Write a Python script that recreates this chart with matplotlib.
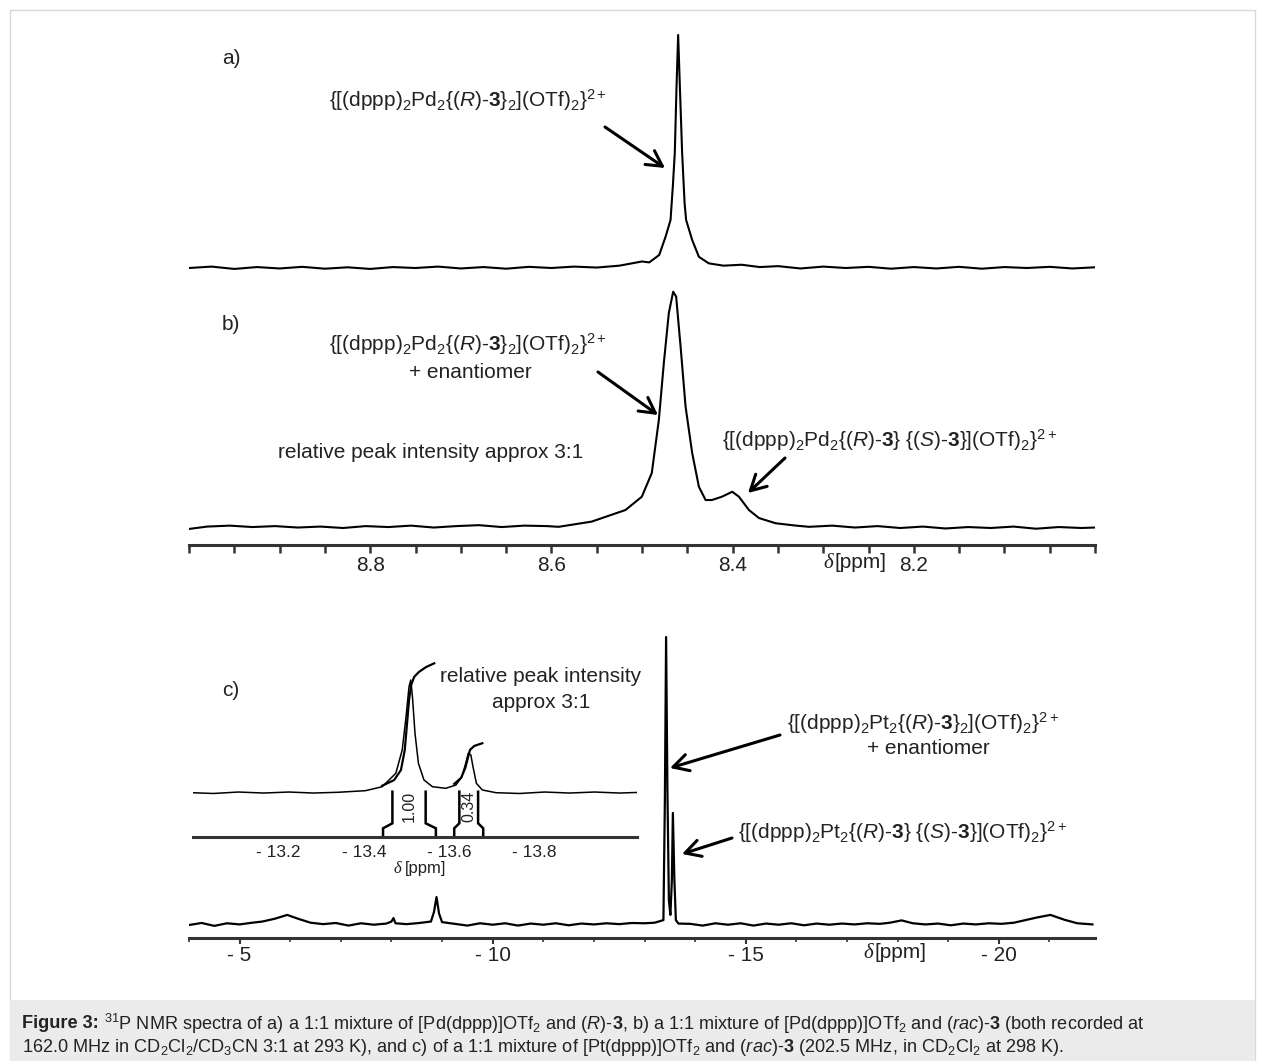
import matplotlib
matplotlib.use('Agg')
import matplotlib.pyplot as plt
from matplotlib.patches import Rectangle
import numpy as np

plt.rcParams['font.family'] = ['Liberation Sans', 'DejaVu Sans']
plt.rcParams['mathtext.fontset'] = 'custom'
plt.rcParams['mathtext.rm'] = 'Liberation Sans'
plt.rcParams['mathtext.it'] = 'Liberation Sans:italic'
plt.rcParams['mathtext.bf'] = 'Liberation Sans:bold'
plt.rcParams['mathtext.default'] = 'regular'

# ---- spectrum a) : Pd, (R)-3 ----
a_ppm = [9.000, 8.975, 8.950, 8.925, 8.900, 8.875, 8.850, 8.825, 8.800, 8.775,
         8.750, 8.725, 8.700, 8.675, 8.650, 8.625, 8.600, 8.575, 8.550, 8.525,
         8.500, 8.492, 8.481, 8.474, 8.4685, 8.466, 8.4638, 8.4619, 8.4601, 8.4582,
         8.4557, 8.453, 8.4513, 8.4446, 8.4372, 8.4263, 8.410, 8.390, 8.370, 8.350,
         8.325, 8.300, 8.275, 8.250, 8.225, 8.200, 8.175, 8.150, 8.125, 8.100,
         8.075, 8.050, 8.025, 8.000]
a_int = [0.000, 0.006, -0.004, 0.004, -0.002, 0.005, -0.003, 0.003, -0.004, 0.004,
         0.000, 0.006, -0.002, 0.004, -0.003, 0.005, 0.000, 0.006, 0.002, 0.010,
         0.028, 0.024, 0.056, 0.134, 0.206, 0.349, 0.494, 0.778, 1.000, 0.778,
         0.494, 0.279, 0.206, 0.120, 0.048, 0.020, 0.010, 0.014, 0.004, 0.008,
         -0.002, 0.006, 0.000, 0.005, -0.003, 0.004, -0.002, 0.005, -0.003, 0.004,
         0.000, 0.005, -0.002, 0.003]

# ---- spectrum b) : Pd, rac-3 ----
b_ppm = [9.000, 8.980, 8.955, 8.930, 8.905, 8.880, 8.855, 8.830, 8.805, 8.780,
         8.755, 8.730, 8.705, 8.680, 8.655, 8.630, 8.605, 8.592, 8.5555, 8.5182,
         8.5002, 8.4892, 8.4814, 8.4759, 8.4704, 8.4656, 8.4623, 8.4574, 8.4519, 8.4446,
         8.4372, 8.4298, 8.4229, 8.4118, 8.4004, 8.393, 8.382, 8.3709, 8.3525, 8.330,
         8.3157, 8.290, 8.265, 8.240, 8.215, 8.190, 8.165, 8.140, 8.115, 8.090,
         8.065, 8.040, 8.015, 8.000]
b_int = [-0.004, 0.006, 0.010, 0.004, 0.008, 0.002, 0.006, 0.000, 0.008, 0.004,
         0.010, 0.002, 0.008, 0.012, 0.004, 0.010, 0.008, 0.005, 0.027, 0.076,
         0.132, 0.232, 0.456, 0.696, 0.907, 0.997, 0.976, 0.765, 0.512, 0.316,
         0.174, 0.118, 0.118, 0.132, 0.153, 0.132, 0.076, 0.042, 0.020, 0.010,
         0.005, 0.010, 0.002, 0.008, 0.000, 0.006, -0.002, 0.004, 0.000, 0.006,
         -0.003, 0.004, 0.000, 0.002]
b_ticks = [8.8, 8.6, 8.4, 8.2]
b_ticklabels = ['8.8', '8.6', '8.4', '8.2']

# ---- spectrum c) : Pt, rac-3 ----
c_ppm = [-4.00, -4.25, -4.50, -4.75, -5.00, -5.25, -5.45, -5.70, -5.94, -6.15,
         -6.40, -6.65, -6.90, -7.15, -7.40, -7.65, -7.90, -8.00, -8.04, -8.08,
         -8.30, -8.55, -8.78, -8.84, -8.89, -8.94, -9.00, -9.25, -9.50, -9.75,
         -10.00, -10.25, -10.50, -10.75, -11.00, -11.25, -11.50, -11.75, -12.00, -12.25,
         -12.50, -12.75, -13.00, -13.20, -13.373, -13.402, -13.426, -13.452, -13.481, -13.511,
         -13.540, -13.560, -13.590, -13.619, -13.669, -13.90, -14.15, -14.40, -14.65, -14.90,
         -15.15, -15.40, -15.65, -15.90, -16.15, -16.40, -16.65, -16.90, -17.15, -17.40,
         -17.65, -17.85, -18.08, -18.30, -18.55, -18.80, -19.05, -19.30, -19.55, -19.80,
         -20.05, -20.30, -20.50, -20.75, -21.02, -21.30, -21.55, -21.85]
c_int = [0.000, 0.007, -0.003, 0.006, 0.002, 0.008, 0.012, 0.022, 0.035, 0.022,
         0.008, 0.003, 0.007, -0.002, 0.006, 0.001, 0.005, 0.012, 0.024, 0.006,
         0.003, 0.007, 0.012, 0.045, 0.097, 0.040, 0.010, 0.004, -0.002, 0.006,
         0.001, 0.006, -0.002, 0.005, 0.001, 0.006, -0.001, 0.005, 0.002, 0.006,
         0.003, 0.007, 0.006, 0.008, 0.017, 0.434, 1.000, 0.469, 0.087, 0.035,
         0.156, 0.389, 0.156, 0.017, 0.005, 0.004, -0.002, 0.006, 0.001, 0.006,
         -0.002, 0.005, 0.001, 0.006, -0.001, 0.005, 0.001, 0.005, 0.002, 0.006,
         0.004, 0.008, 0.016, 0.006, 0.002, 0.005, -0.001, 0.005, 0.002, 0.006,
         0.004, 0.008, 0.016, 0.026, 0.035, 0.018, 0.006, 0.002]
c_ticks = [-5, -10, -15, -20]
c_ticklabels = ['- 5', '- 10', '- 15', '- 20']

# ---- inset of c) ----
i_ppm = [-12.996, -13.047, -13.106, -13.165, -13.224, -13.282, -13.341, -13.404, -13.443, -13.475,
         -13.490, -13.499, -13.506, -13.510, -13.514, -13.520, -13.528, -13.541, -13.561, -13.592,
         -13.616, -13.630, -13.639, -13.645, -13.651, -13.656, -13.664, -13.678, -13.710, -13.765,
         -13.824, -13.882, -13.941, -14.000, -14.039]
i_int = [0.000, -0.007, 0.006, -0.003, 0.006, -0.003, 0.004, 0.018, 0.053, 0.172,
         0.379, 0.674, 0.941, 1.000, 0.852, 0.527, 0.261, 0.113, 0.053, 0.039,
         0.068, 0.142, 0.261, 0.350, 0.335, 0.231, 0.083, 0.024, 0.000, -0.007,
         0.006, -0.003, 0.006, -0.003, 0.002]
integ1_ppm = [-13.443, -13.471, -13.487, -13.496, -13.501, -13.506, -13.511, -13.518, -13.529, -13.546, -13.565]
integ1_val = [0.062, 0.112, 0.201, 0.379, 0.601, 0.823, 0.956, 1.027, 1.071, 1.115, 1.148]
integ2_ppm = [-13.612, -13.628, -13.638, -13.644, -13.649, -13.659, -13.678]
integ2_val = [0.078, 0.131, 0.220, 0.309, 0.380, 0.415, 0.439]
int_outer = [(-13.445, -13.569), (-13.612, -13.680)]
int_inner = [(-13.467, -13.545), (-13.624, -13.668)]
int_labels = ['1.00', '0.34']
i_ticks = [-13.2, -13.4, -13.6, -13.8]
i_ticklabels = ['- 13.2', '- 13.4', '- 13.6', '- 13.8']

PD_RR = r'{[(dppp)$_2$Pd$_2${($\mathit{R}$)-$\mathbf{3}$}$_2$](OTf)$_2$}$^{2+}$'
PD_RS = r'{[(dppp)$_2$Pd$_2${($\mathit{R}$)-$\mathbf{3}$} {($\mathit{S}$)-$\mathbf{3}$}](OTf)$_2$}$^{2+}$'
PT_RR = r'{[(dppp)$_2$Pt$_2${($\mathit{R}$)-$\mathbf{3}$}$_2$](OTf)$_2$}$^{2+}$'
PT_RS = r'{[(dppp)$_2$Pt$_2${($\mathit{R}$)-$\mathbf{3}$} {($\mathit{S}$)-$\mathbf{3}$}](OTf)$_2$}$^{2+}$'
CAP_HEAD = 'Figure 3:'
CAP1 = (r'$^{31}$P NMR spectra of a) a 1:1 mixture of [Pd(dppp)]OTf$_2$ and '
        r'($\mathit{R}$)-$\mathbf{3}$, b) a 1:1 mixture of [Pd(dppp)]OTf$_2$ and ($\mathit{rac}$)-$\mathbf{3}$ '
        r'(both recorded at')
CAP2 = (r'162.0 MHz in CD$_2$Cl$_2$/CD$_3$CN 3:1 at 293 K), and c) of a 1:1 mixture of '
        r'[Pt(dppp)]OTf$_2$ and ($\mathit{rac}$)-$\mathbf{3}$ (202.5 MHz, in CD$_2$Cl$_2$ at 298 K).')

W, H = 1265, 1061
fig = plt.figure(figsize=(W / 100, H / 100), dpi=100)
TXT = '#222222'
AX = '#333333'

# overlay in pixel coordinates for frame, labels and arrows
bg = fig.add_axes([0, 0, 1, 1])
bg.set_xlim(0, W)
bg.set_ylim(H, 0)
bg.axis('off')
bg.add_patch(Rectangle((10, 10), 1245, 1060, facecolor='white', edgecolor='#d8d8d8', lw=1))
bg.add_patch(Rectangle((10, 1000), 1245, 70, facecolor='#ebebeb', edgecolor='none'))


def px_axes(x0, y0, x1, y1):
    ax = fig.add_axes([x0 / W, 1 - y1 / H, (x1 - x0) / W, (y1 - y0) / H])
    ax.set_facecolor('none')
    return ax


def only_bottom(ax):
    for s in ['top', 'left', 'right']:
        ax.spines[s].set_visible(False)
    ax.spines['bottom'].set_linewidth(2.2)
    ax.spines['bottom'].set_color(AX)
    ax.set_yticks([])


# panel a
ax_a = px_axes(189, 20, 1095, 280)
ax_a.plot(a_ppm, a_int, color='k', lw=1.5)
ax_a.set_xlim(9.0, 8.0)
ax_a.set_ylim((268 - 280) / 233, (268 - 20) / 233)
ax_a.axis('off')

# panel b
ax_b = px_axes(189, 280, 1095, 545)
ax_b.plot(b_ppm, b_int, color='k', lw=1.5)
ax_b.set_xlim(9.0, 8.0)
ax_b.set_ylim((528 - 545) / 237, (528 - 280) / 237)
only_bottom(ax_b)
ax_b.set_xticks(b_ticks)
ax_b.set_xticklabels(b_ticklabels)
ax_b.set_xticks(np.arange(8.0, 9.001, 0.05), minor=True)
ax_b.tick_params(axis='x', which='both', direction='out', length=6, width=1.8,
                 color=AX, labelsize=15, pad=2, labelcolor=TXT)

# panel c
ax_c = px_axes(189, 600, 1095, 938)
ax_c.plot(c_ppm, c_int, color='k', lw=1.6)
ax_c.set_xlim(-4.0, -21.9)
ax_c.set_ylim((925 - 938) / 288, (925 - 600) / 288)
only_bottom(ax_c)
ax_c.set_xticks(c_ticks)
ax_c.set_xticklabels(c_ticklabels)
ax_c.set_xticks(np.arange(-21, -3.9, 1.0), minor=True)
ax_c.tick_params(axis='x', which='major', direction='out', length=4.5, width=1.5,
                 color=AX, labelsize=15, pad=1.5, labelcolor=TXT)
ax_c.tick_params(axis='x', which='minor', direction='out', length=3, width=1.2, color=AX)

# inset
ax_i = px_axes(193.3, 640, 636.7, 836.7)
ax_i.plot(i_ppm, i_int, color='k', lw=1.1)
ax_i.plot(integ1_ppm, integ1_val, color='k', lw=1.6)
ax_i.plot(integ2_ppm, integ2_val, color='k', lw=1.6)
ax_i.set_xlim(-13.0, -14.04)
ax_i.set_ylim((792.7 - 836.7) / 112.7, (792.7 - 640) / 112.7)
only_bottom(ax_i)
ax_i.set_xticks(i_ticks)
ax_i.set_xticklabels(i_ticklabels)
ax_i.tick_params(axis='x', length=0, labelsize=12.5, pad=6, labelcolor=TXT)


def iy(ypx):
    return (792.7 - ypx) / 112.7


for (o_l, o_r), (n_l, n_r), lab in zip(int_outer, int_inner, int_labels):
    for o, n in [(o_l, n_l), (o_r, n_r)]:
        ax_i.plot([n, n, o, o], [iy(791.7), iy(823.3), iy(828.3), iy(836.7)],
                  color='k', lw=1.8, solid_joinstyle='miter')
    ax_i.text((n_l + n_r) / 2, iy(806.7), lab, rotation=90, ha='center', va='center',
              fontsize=11.5, color=TXT)

# labels
bg.text(222, 58, 'a)', fontsize=15, color=TXT, va='center')
bg.text(222, 325, 'b)', fontsize=15, color=TXT, va='center')
bg.text(222, 690, 'c)', fontsize=15, color=TXT, va='center')

bg.text(468, 100, PD_RR, fontsize=15, color=TXT, ha='center', va='center')
bg.text(468, 344, PD_RR, fontsize=15, color=TXT, ha='center', va='center')
bg.text(470, 372, '+ enantiomer', fontsize=15, color=TXT, ha='center', va='center')
bg.text(278, 452, 'relative peak intensity approx 3:1', fontsize=15, color=TXT, va='center')
bg.text(722, 440, PD_RS, fontsize=15, color=TXT, va='center')

bg.text(541, 677, 'relative peak intensity', fontsize=15, color=TXT, ha='center', va='center')
bg.text(541, 703, 'approx 3:1', fontsize=15, color=TXT, ha='center', va='center')
bg.text(923, 723, PT_RR, fontsize=15, color=TXT, ha='center', va='center')
bg.text(928, 748, '+ enantiomer', fontsize=15, color=TXT, ha='center', va='center')
bg.text(738, 832, PT_RS, fontsize=15, color=TXT, va='center')

# delta [ppm] axis titles (shared baseline)
for x, y, fs, gap in [(833, 568, 15, 2), (873, 958, 15, 2), (401, 873, 12, 4)]:
    bg.text(x, y, 'δ', fontsize=fs, color=TXT, ha='right', va='baseline',
            family='Liberation Serif', style='italic')
    bg.text(x + gap, y, '[ppm]', fontsize=fs, color=TXT, ha='left', va='baseline')

# arrows
arrows = [((605, 127), (665, 168)), ((598, 372), (658, 415)), ((785, 458), (748, 493)),
          ((780, 735), (670, 768)), ((732, 838), (682, 854))]
for tail, head in arrows:
    bg.annotate('', xy=head, xytext=tail,
                arrowprops=dict(arrowstyle='->,head_length=0.55,head_width=0.3', lw=2.2,
                                color='k', shrinkA=0, shrinkB=0, mutation_scale=20))

# caption
cap_fs = 13.1
head = bg.text(22, 1024, CAP_HEAD, fontsize=cap_fs, color=TXT, va='center', weight='bold')
bb = head.get_window_extent(renderer=fig.canvas.get_renderer())
bg.text(bb.x1 + 5, 1024, CAP1, fontsize=cap_fs, color=TXT, va='center')
bg.text(22, 1047, CAP2, fontsize=cap_fs, color=TXT, va='center')

fig.savefig('out.png', dpi=100)
